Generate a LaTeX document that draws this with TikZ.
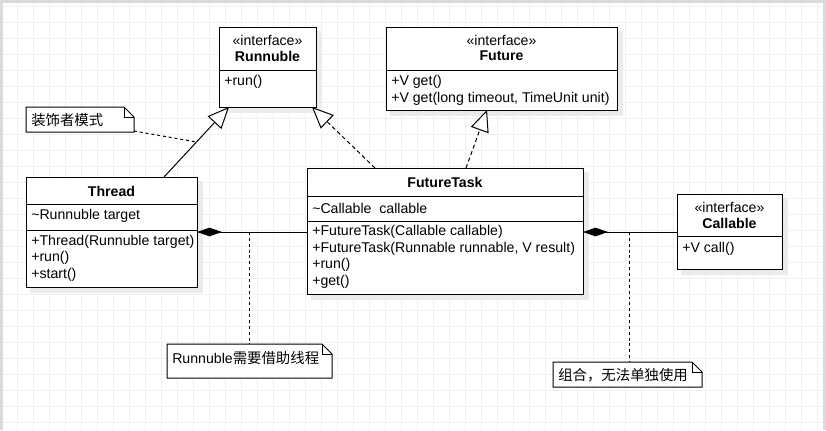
\documentclass[tikz,border=0pt]{standalone}
\usepackage{fontspec}
\setmainfont{Liberation Sans}
\newfontfamily\cjk{Noto Sans CJK SC}
\usetikzlibrary{arrows.meta,shapes.geometric,calc}
\definecolor{gridc}{HTML}{F0F0F0}
\definecolor{framec}{HTML}{DADADA}
\definecolor{shadowc}{HTML}{EBEBEB}
\tikzset{
  box/.style={draw=black,line width=0.75pt,fill=white,anchor=north west,inner sep=0pt},
  shd/.style={fill=shadowc,draw=none},
  ttl/.style={font=\fontsize{10.6}{12}\selectfont,inner sep=0pt,anchor=center},
  ttlb/.style={font=\fontsize{10.6}{12}\selectfont\bfseries,inner sep=0pt,anchor=center},
  mem/.style={font=\fontsize{10.6}{12}\selectfont,inner sep=0pt,anchor=west},
  cjkt/.style={font=\fontsize{10.8}{12}\selectfont\cjk,inner sep=0pt,anchor=west},
  sep/.style={line width=0.75pt},
  notebox/.style={draw=black,line width=0.75pt,fill=white},
  inh/.style={line width=0.75pt,-{Triangle[open,length=16pt,width=14pt,fill=white]}},
  real/.style={inh,dash pattern=on 3pt off 2.2pt},
  comp/.style={line width=0.75pt,{Diamond[length=18.75pt,width=6.5pt]}-},
  noteln/.style={line width=0.75pt,dash pattern=on 2.2pt off 2.2pt},
}
\begin{document}
\begin{tikzpicture}[x=0.75pt,y=-0.75pt]
\useasboundingbox (0,0) rectangle (826,430);
% background and grid
\fill[white] (0,0) rectangle (826,430);
\foreach \gx in {1,17,...,826} \draw[gridc,line width=0.75pt] (\gx,0) -- (\gx,430);
\foreach \gy in {6,22,...,430} \draw[gridc,line width=0.75pt] (0,\gy) -- (826,\gy);
\fill[framec] (0,0) rectangle (826,2.5);
\fill[framec] (0,0) rectangle (2.5,430);
\fill[framec] (823,0) rectangle (826,430);
% shadows
\fill[shd] (223,31) rectangle (322,113);
\fill[shd] (390,31) rectangle (623,116);
\fill[shd] (30,181) rectangle (203,293);
\fill[shd] (311,172) rectangle (589,300);
\fill[shd] (681,198) rectangle (788,275);
% Runnuble
\node[box,minimum width=72.75pt,minimum height=60pt] (run) at (219,27) {};
\draw[sep] (219,70) -- (316,70);
\node[ttl] (runS) at (267.5,40) {«interface»};
\node[ttlb] (runN) at (267.5,56) {Runnuble};
\node[mem] (runM1) at (224,82) {+run()};
% Future
\node[box,minimum width=173.25pt,minimum height=62.25pt] (fut) at (386,27) {};
\draw[sep] (386,70) -- (617,70);
\node[ttl] (futS) at (501.5,40) {«interface»};
\node[ttlb] (futN) at (501.5,56) {Future};
\node[mem] (futM1) at (391,82) {+V get()};
\node[mem] (futM2) at (391,99) {+V get(long timeout, TimeUnit unit)};
% Thread
\node[box,minimum width=128.25pt,minimum height=82.5pt] (thr) at (26,177) {};
\draw[sep] (26,204) -- (197,204);
\draw[sep] (26,230) -- (197,230);
\node[ttlb] (thrN) at (111.5,191) {Thread};
\node[mem] (thrA1) at (31,216) {\textasciitilde Runnuble target};
\node[mem] (thrM1) at (31,242) {+Thread(Runnuble target)};
\node[mem] (thrM2) at (31,258) {+run()};
\node[mem] (thrM3) at (31,275) {+start()};
% FutureTask
\node[box,minimum width=207pt,minimum height=94.5pt] (ft) at (307,168) {};
\draw[sep] (307,196) -- (583,196);
\draw[sep] (307,221) -- (583,221);
\node[ttlb] (ftN) at (445,182) {FutureTask};
\node[mem] (ftA1) at (312,208) {\textasciitilde Callable\ \ callable};
\node[mem] (ftM1) at (312,232) {+FutureTask(Callable callable)};
\node[mem] (ftM2) at (312,249) {+FutureTask(Runnable runnable, V result)};
\node[mem] (ftM3) at (312,265) {+run()};
\node[mem] (ftM4) at (312,282) {+get()};
% Callable
\node[box,minimum width=78.75pt,minimum height=56.25pt] (cal) at (677,194) {};
\draw[sep] (677,236) -- (782,236);
\node[ttl] (calS) at (729.5,207) {«interface»};
\node[ttlb] (calN) at (729.5,223) {Callable};
\node[mem] (calM1) at (682,249) {+V call()};
% Notes
\draw[notebox] (26,107) -- (124,107) -- (134,117) -- (134,132) -- (26,132) -- cycle;
\draw[line width=0.75pt] (124,107) -- (124,117) -- (134,117);
\node[cjkt] (n1) at (31,120) {装饰者模式};
\draw[notebox] (167,344) -- (322,344) -- (332,354) -- (332,378) -- (167,378) -- cycle;
\draw[line width=0.75pt] (322,344) -- (322,354) -- (332,354);
\node[cjkt] (n2) at (172,358) {{\rmfamily\fontsize{10.6}{12}\selectfont Runnuble}需要借助线程};
\draw[notebox] (553,362) -- (692,362) -- (702,372) -- (702,387) -- (553,387) -- cycle;
\draw[line width=0.75pt] (692,362) -- (692,372) -- (702,372);
\node[cjkt] (n3) at (558,375) {组合，无法单独使用};
% connector coordinates
\coordinate (thrTop) at (164,177);
\coordinate (runB1) at (229,107);
\coordinate (runB2) at (312,107);
\coordinate (ftT1) at (375,168);
\coordinate (ftT2) at (466,168);
\coordinate (futB) at (487,110);
\coordinate (thrR) at (197,232);
\coordinate (ftL) at (307,232);
\coordinate (ftR) at (583,232);
\coordinate (calL) at (677,232);
\coordinate (n1e) at (134,131);
\coordinate (mid1) at ($(thrTop)!0.5!(runB1)$);
\coordinate (j1) at (249,232);
\coordinate (n2t) at (249,344);
\coordinate (j2) at (629,232);
\coordinate (n3t) at (629,362);
% connectors
\draw[inh] (thrTop) -- (runB1);
\draw[real] (ftT1) -- (runB2);
\draw[real] (ftT2) -- (futB);
\draw[comp] (thrR) -- (ftL);
\draw[comp] (ftR) -- (calL);
\draw[noteln] (n1e) -- (mid1);
\draw[noteln] (j1) -- (n2t);
\draw[noteln] (j2) -- (n3t);
\end{tikzpicture}
\end{document}
